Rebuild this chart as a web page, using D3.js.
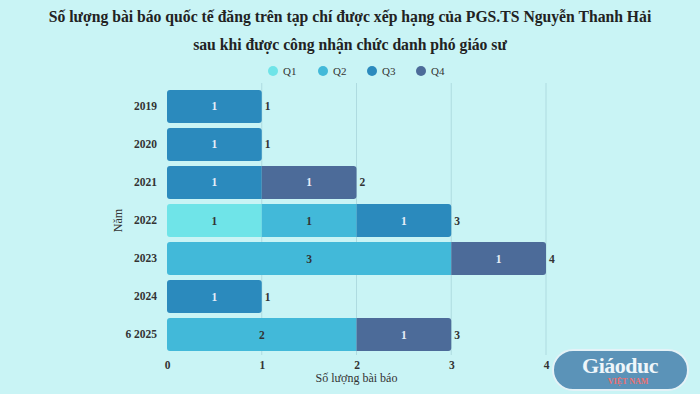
<!DOCTYPE html>
<html><head><meta charset="utf-8">
<script src="https://cdn.jsdelivr.net/npm/d3@7"></script>
<style>
html,body{margin:0;padding:0;background:#c9f4f5;}
svg{display:block;}
text{font-family:"Liberation Serif","DejaVu Serif",serif;}
</style></head>
<body>
<svg id="c" width="700" height="394"></svg>
<script>
const years = ["2019","2020","2021","2022","2023","2024","6 2025"];
const seriesNames = ["Q1","Q2","Q3","Q4"];
const q1 = [0,0,0,1,0,0,0];
const q2 = [0,0,0,1,3,0,2];
const q3 = [1,1,1,1,0,1,0];
const q4 = [0,0,1,0,1,0,1];
const xTicks = [0,1,2,3,4];
const colors = ["#6fe4e8","#42b9d9","#2b8abd","#4c6b99"];
const labelColors = ["#333","#333","#e6eef8","#e6eef8"];
const titleLines = ["Số lượng bài báo quốc tế đăng trên tạp chí được xếp hạng của PGS.TS Nguyễn Thanh Hải","sau khi được công nhận chức danh phó giáo sư"];

const svg = d3.select("#c");
const W=700,H=394;
svg.append("rect").attr("width",W).attr("height",H).attr("fill","#c9f4f5");

const margin={left:167,right:154,top:88,bottom:41};
const x=d3.scaleLinear().domain([0,4]).range([margin.left,W-margin.right]);
const y=d3.scaleBand().domain(years).range([margin.top,H-margin.bottom]).paddingInner(0.13).paddingOuter(0.05);

// title
svg.selectAll(".title").data(titleLines).join("text")
 .attr("x",350).attr("y",(d,i)=>22+i*28).attr("text-anchor","middle")
 .attr("font-size",15.7).attr("font-weight","bold").attr("fill","#222").text(d=>d);

// legend
const lx=[273,323,372,421];
const lg=svg.append("g");
seriesNames.forEach((s,i)=>{
  lg.append("circle").attr("cx",lx[i]).attr("cy",71).attr("r",5).attr("fill",colors[i]);
  lg.append("text").attr("x",lx[i]+10).attr("y",75).attr("font-size",11).attr("fill","#333").text(s);
});

// grid
svg.append("g").selectAll("line").data(xTicks.slice(1)).join("line")
 .attr("x1",d=>x(d)).attr("x2",d=>x(d)).attr("y1",margin.top-5).attr("y2",H-margin.bottom+2)
 .attr("stroke","#aedbe0").attr("stroke-width",1);

// stack
const rows=years.map((yr,i)=>({year:yr,Q1:q1[i],Q2:q2[i],Q3:q3[i],Q4:q4[i]}));
const stack=d3.stack().keys(seriesNames)(rows);
const totals=rows.map(r=>seriesNames.reduce((a,k)=>a+r[k],0));

function barPath(x0,x1,y0,h,roundRight,roundLeft){
  const r=3;
  const rr=roundRight?r:0, rl=roundLeft?r:0;
  return `M${x0+rl},${y0} H${x1-rr} Q${x1},${y0} ${x1},${y0+rr} V${y0+h-rr} Q${x1},${y0+h} ${x1-rr},${y0+h} H${x0+rl} Q${x0},${y0+h} ${x0},${y0+h-rl} V${y0+rl} Q${x0},${y0} ${x0+rl},${y0} Z`;
}

stack.forEach((layer,si)=>{
  const g=svg.append("g");
  layer.forEach((d,i)=>{
    if(d[1]-d[0]<=0) return;
    const isLast = d[1]===totals[i];
    const isFirst = d[0]===0;
    g.append("path").attr("d",barPath(x(d[0]),x(d[1]),y(years[i]),y.bandwidth(),isLast,isFirst))
     .attr("fill",colors[si]);
    g.append("text").attr("x",(x(d[0])+x(d[1]))/2).attr("y",y(years[i])+y.bandwidth()/2+4)
     .attr("text-anchor","middle").attr("font-size",11.5).attr("font-weight","bold").attr("fill",labelColors[si]).text(d[1]-d[0]);
  });
});
// totals
svg.append("g").selectAll("text").data(totals).join("text")
 .attr("x",d=>x(d)+3).attr("y",(d,i)=>y(years[i])+y.bandwidth()/2+4)
 .attr("font-size",11.5).attr("font-weight","bold").attr("fill","#333").text(d=>d);

// axes
const xa=svg.append("g").attr("transform",`translate(0,${H-margin.bottom})`)
 .call(d3.axisBottom(x).tickValues(xTicks).tickFormat(d3.format("d")).tickSize(0).tickPadding(8));
xa.select(".domain").remove();
xa.selectAll("text").attr("font-size",11.5).attr("font-weight","bold").attr("fill","#333").attr("font-family","Liberation Serif, serif");

const ya=svg.append("g").attr("transform",`translate(${margin.left},0)`)
 .call(d3.axisLeft(y).tickSize(0).tickPadding(10));
ya.select(".domain").remove();
ya.selectAll("text").attr("font-size",11.5).attr("font-weight","bold").attr("fill","#333").attr("font-family","Liberation Serif, serif");

svg.append("text").attr("x",(x(0)+x(4))/2).attr("y",382).attr("text-anchor","middle")
 .attr("font-size",12).attr("fill","#333").text("Số lượng bài báo");
svg.append("text").attr("transform",`translate(122,${(margin.top+H-margin.bottom)/2}) rotate(-90)`)
 .attr("text-anchor","middle").attr("font-size",12).attr("fill","#333").text("Năm");

// watermark logo
const wm=svg.append("g");
wm.append("rect").attr("x",553).attr("y",350).attr("width",135).attr("height",40).attr("rx",20)
 .attr("fill","#5b93b8").attr("stroke","#e4f2f7").attr("stroke-width",2);
wm.append("text").attr("x",620).attr("y",373).attr("text-anchor","middle").attr("font-size",22)
 .attr("font-weight","bold").attr("font-family","DejaVu Sans, sans-serif").attr("fill","#eef6fa").attr("letter-spacing",-0.5).text("Giáoduc");
wm.append("text").attr("x",628).attr("y",384).attr("text-anchor","middle").attr("font-size",8)
 .attr("font-weight","bold").attr("font-family","DejaVu Sans, sans-serif").attr("fill","#ef7070").text("VIỆT NAM");
</script>
</body></html>
